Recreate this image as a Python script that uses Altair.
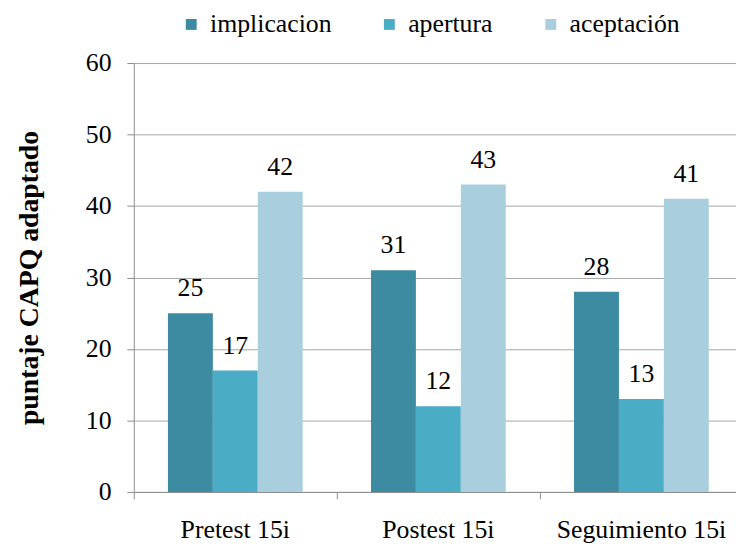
import altair as alt
import pandas as pd

categories = ["Pretest 15i", "Postest 15i", "Seguimiento 15i"]
series = ["implicacion", "apertura", "aceptación"]
implicacion = [25, 31, 28]
apertura = [17, 12, 13]
aceptacion = [42, 43, 41]
colors = ["#3D8BA1", "#4BACC6", "#A9CFDF"]

rows = []
for i, c in enumerate(categories):
    for s, vals in zip(series, [implicacion, apertura, aceptacion]):
        rows.append({"cat": c, "serie": s, "valor": vals[i]})
df = pd.DataFrame(rows)

FONT = "Liberation Serif"
FS = 26

x = alt.X("cat:N", sort=categories, title=None,
          scale=alt.Scale(paddingInner=0, paddingOuter=0, range=[0, 615]),
          axis=alt.Axis(labelAngle=0, labelFontSize=FS, labelPadding=18, tickSize=7,
                        bandPosition=0, grid=False, domainColor="#8C8C8C",
                        tickColor="#8C8C8C", labelColor="black", labelFont=FONT,
                        labelLimit=300))
xoff = alt.XOffset("serie:N", sort=series,
                   scale=alt.Scale(paddingInner=0, paddingOuter=0.76))
y = alt.Y("valor:Q", title="puntaje CAPQ adaptado",
          scale=alt.Scale(domain=[0, 60]),
          axis=alt.Axis(values=[0, 10, 20, 30, 40, 50, 60], labelFontSize=FS,
                        labelPadding=16, tickSize=7, titleFontSize=28,
                        titleFontWeight="bold", titlePadding=42, titleFont=FONT,
                        labelFont=FONT, gridColor="#A6A6A6", domainColor="#8C8C8C",
                        tickColor="#8C8C8C", labelColor="black", titleColor="black"))

color = alt.Color("serie:N", sort=series, title=None,
                  scale=alt.Scale(domain=series, range=colors),
                  legend=alt.Legend(orient="none", direction="horizontal",
                                    legendX=45, legendY=-52, symbolType="square",
                                    symbolSize=121, symbolStrokeWidth=0,
                                    labelFontSize=FS, labelFont=FONT,
                                    labelOffset=6, columnPadding=45,
                                    labelColor="black", labelLimit=300))

bars = alt.Chart(df).mark_bar().encode(x=x, xOffset=xoff, y=y, color=color)
text = alt.Chart(df).mark_text(baseline="alphabetic", dy=-17, fontSize=FS, font=FONT,
                               color="black").encode(
    x=alt.X("cat:N", sort=categories), xOffset=alt.XOffset("serie:N", sort=series),
    y="valor:Q", text="valor:Q")

chart = (bars + text).properties(
    width=608, height=433,
    autosize=alt.AutoSizeParams(type="none"),
    padding={"left": 127, "top": 53, "right": 0, "bottom": 50},
    background="white",
).configure_view(stroke=None)

chart.save("out.html", embed_options={"renderer": "svg", "actions": False})
